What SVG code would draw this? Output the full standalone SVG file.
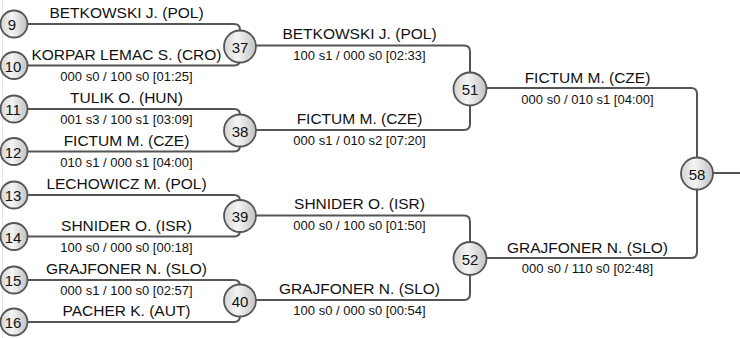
<svg xmlns="http://www.w3.org/2000/svg" width="740" height="338" viewBox="0 0 740 338">
<style>
.con{fill:none;stroke:#555;stroke-width:2}
.nd{fill:url(#g);stroke:#555;stroke-width:1.8}
.num{font-family:"Liberation Sans",Arial,sans-serif;font-size:15px;fill:#111;text-anchor:middle;dominant-baseline:central}
.nm{font-family:"Liberation Sans",Arial,sans-serif;font-size:15.5px;fill:#111;text-anchor:middle}
.sc{font-family:"Liberation Sans",Arial,sans-serif;font-size:13px;fill:#111;text-anchor:middle}
</style>
<defs>
<linearGradient id="g" x1="0" y1="0" x2="1" y2="0">
<stop offset="0" stop-color="#d4d4d4"/>
<stop offset="0.42" stop-color="#f4f4f4"/>
<stop offset="1" stop-color="#c2c2c2"/>
</linearGradient>
</defs>
<rect width="740" height="338" fill="#fff"/>
<line x1="2.5" y1="0" x2="2.5" y2="338" stroke="#e4e4e4" stroke-width="1"/>
<g id="connectors">
<path class="con" d="M14,24 H234 Q240,24 240,30 V59.5 Q240,65.5 234,65.5 H14"/>
<path class="con" d="M14,109 H234 Q240,109 240,115 V145.5 Q240,151.5 234,151.5 H14"/>
<path class="con" d="M14,195 H234 Q240,195 240,201 V230.5 Q240,236.5 234,236.5 H14"/>
<path class="con" d="M14,280 H234 Q240,280 240,286 V316 Q240,322 234,322 H14"/>
<path class="con" d="M240,45.5 H464 Q470,45.5 470,51.5 V124 Q470,130 464,130 H240"/>
<path class="con" d="M240,215.5 H464 Q470,215.5 470,221.5 V294 Q470,300 464,300 H240"/>
<path class="con" d="M470,88 H691 Q697,88 697,94 V252 Q697,258 691,258 H470"/>
<path class="con" d="M697,173 H740"/>
</g>
<g id="labels">
<text class="nm" x="126.5" y="17.5">BETKOWSKI J. (POL)</text>
<text class="nm" x="126.5" y="59.5">KORPAR LEMAC S. (CRO)</text>
<text class="sc" x="126.5" y="81">000 s0 / 100 s0 [01:25]</text>
<text class="nm" x="126.5" y="102.5">TULIK O. (HUN)</text>
<text class="sc" x="126.5" y="124">001 s3 / 100 s1 [03:09]</text>
<text class="nm" x="126.5" y="145.5">FICTUM M. (CZE)</text>
<text class="sc" x="126.5" y="166.5">010 s1 / 000 s1 [04:00]</text>
<text class="nm" x="126.5" y="188.5">LECHOWICZ M. (POL)</text>
<text class="nm" x="126.5" y="230.5">SHNIDER O. (ISR)</text>
<text class="sc" x="126.5" y="251.5">100 s0 / 000 s0 [00:18]</text>
<text class="nm" x="126.5" y="273.5">GRAJFONER N. (SLO)</text>
<text class="sc" x="126.5" y="295">000 s1 / 100 s0 [02:57]</text>
<text class="nm" x="126.5" y="316">PACHER K. (AUT)</text>
<text class="nm" x="359.5" y="38.5">BETKOWSKI J. (POL)</text>
<text class="sc" x="359.5" y="60">100 s1 / 000 s0 [02:33]</text>
<text class="nm" x="359.5" y="123.5">FICTUM M. (CZE)</text>
<text class="sc" x="359.5" y="144.5">000 s1 / 010 s2 [07:20]</text>
<text class="nm" x="359.5" y="208.5">SHNIDER O. (ISR)</text>
<text class="sc" x="359.5" y="230">000 s0 / 100 s0 [01:50]</text>
<text class="nm" x="359.5" y="293.5">GRAJFONER N. (SLO)</text>
<text class="sc" x="359.5" y="314.5">100 s0 / 000 s0 [00:54]</text>
<text class="nm" x="587.5" y="83">FICTUM M. (CZE)</text>
<text class="sc" x="587.5" y="104">000 s0 / 010 s1 [04:00]</text>
<text class="nm" x="587.5" y="252.5">GRAJFONER N. (SLO)</text>
<text class="sc" x="587.5" y="273">000 s0 / 110 s0 [02:48]</text>
</g>
<g id="n9"><circle class="nd" cx="14" cy="24" r="13.5"/><text class="num" x="12" y="24.5">9</text></g>
<g id="n10"><circle class="nd" cx="14" cy="65.5" r="13.5"/><text class="num" x="13" y="66">10</text></g>
<g id="n11"><circle class="nd" cx="14" cy="109" r="13.5"/><text class="num" x="13" y="109.5">11</text></g>
<g id="n12"><circle class="nd" cx="14" cy="151.5" r="13.5"/><text class="num" x="13" y="152">12</text></g>
<g id="n13"><circle class="nd" cx="14" cy="195" r="13.5"/><text class="num" x="13" y="195.5">13</text></g>
<g id="n14"><circle class="nd" cx="14" cy="236.5" r="13.5"/><text class="num" x="13" y="237">14</text></g>
<g id="n15"><circle class="nd" cx="14" cy="280" r="13.5"/><text class="num" x="13" y="280.5">15</text></g>
<g id="n16"><circle class="nd" cx="14" cy="322" r="13.5"/><text class="num" x="13" y="322.5">16</text></g>
<g id="n37"><circle class="nd" cx="240" cy="46.5" r="16"/><text class="num" x="240" y="47.5">37</text></g>
<g id="n38"><circle class="nd" cx="240" cy="130.5" r="16"/><text class="num" x="240" y="131">38</text></g>
<g id="n39"><circle class="nd" cx="240" cy="216" r="16"/><text class="num" x="240" y="216.5">39</text></g>
<g id="n40"><circle class="nd" cx="240" cy="300.5" r="16"/><text class="num" x="240" y="301">40</text></g>
<g id="n51"><circle class="nd" cx="470" cy="89" r="16.5"/><text class="num" x="470" y="89.5">51</text></g>
<g id="n52"><circle class="nd" cx="470" cy="258.5" r="16.5"/><text class="num" x="470" y="259">52</text></g>
<g id="n58"><circle class="nd" cx="697" cy="173.5" r="16"/><text class="num" x="697" y="174">58</text></g>
</svg>
